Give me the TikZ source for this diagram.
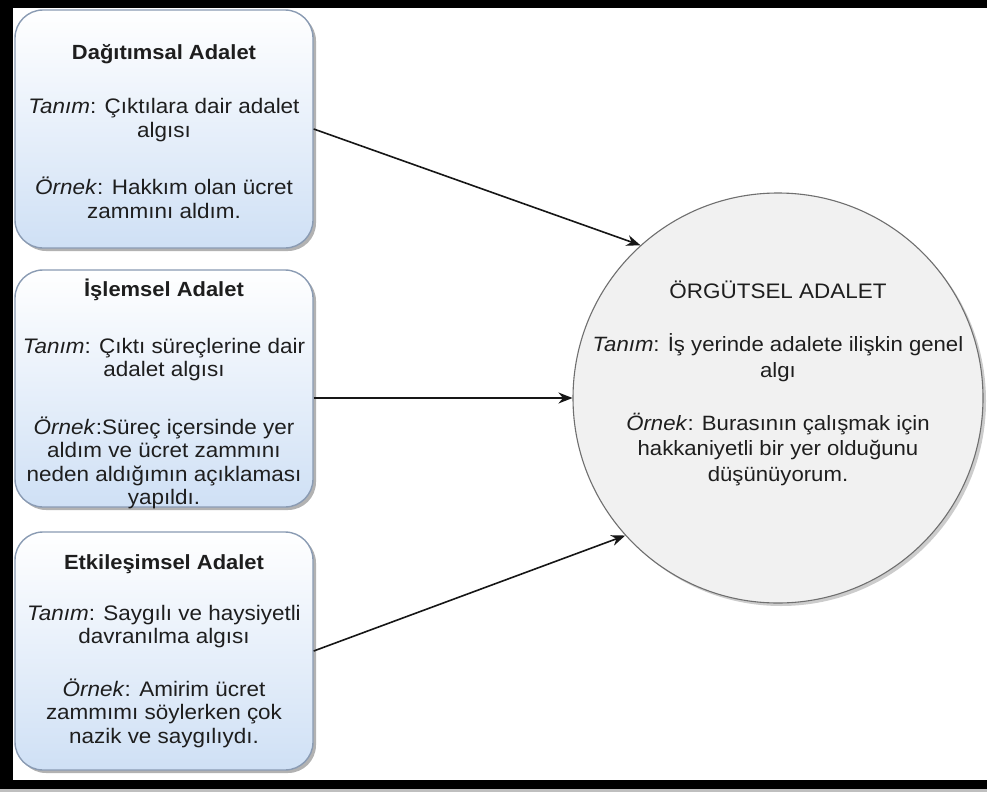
\documentclass[tikz,border=0pt]{standalone}
\usepackage{fontspec}
\setmainfont{Liberation Sans}[FakeStretch=1.07]
\usetikzlibrary{arrows.meta,shadows}

\definecolor{boxedge}{HTML}{8A9BB3}
\definecolor{boxbottom}{HTML}{CFE0F5}
\definecolor{circfill}{HTML}{F1F1F1}
\definecolor{circedge}{HTML}{6F6F6F}
\definecolor{txt}{HTML}{1E1E1E}
\definecolor{linkcol}{HTML}{161616}

\begin{document}
\begin{tikzpicture}[x=1pt,y=-1pt,
  typebox/.style={draw=boxedge, line width=1.4pt, rounded corners=28pt,
    top color=white, bottom color=boxbottom,
    minimum width=298pt, minimum height=238pt, inner sep=0pt,
    drop shadow={shadow xshift=3pt, shadow yshift=-3pt, fill=black, opacity=0.3}},
  boxtext/.style={align=center, text=txt, inner sep=0pt,
    font=\fontsize{21}{23.5}\selectfont},
  bigcircle/.style={circle, draw=circedge, line width=1.1pt, fill=circfill,
    minimum size=410pt, inner sep=0pt,
    drop shadow={shadow xshift=3pt, shadow yshift=-3pt, fill=black, opacity=0.2}},
  circtext/.style={align=center, text=txt, inner sep=0pt,
    font=\fontsize{20.7}{25.5}\selectfont},
  link/.style={draw=linkcol, line width=1.6pt, -{Stealth[length=14pt, width=11pt]}}
]
\useasboundingbox (0,0) rectangle (987,792);
\fill[white] (0,0) rectangle (987,792);

% outer frame (right side runs off the page)
\fill[black!25] (0,788) rectangle (987,792);
\fill[black] (0,0) rectangle (987,8);
\fill[black] (0,0) rectangle (13,789);
\fill[black] (0,780) rectangle (987,789);

% the three kinds of justice
\node[typebox] (b1) at (164,129) {};
\node[typebox, minimum height=237pt] (b2) at (164,388.5) {};
\node[typebox] (b3) at (164,651) {};

\node[boxtext] (t1) at (164,131.5) {%
  {\bfseries\fontsize{20.5}{23.5}\selectfont Dağıtımsal Adalet}\\[31pt]
  \textit{Tanım}: Çıktılara dair adalet\\
  algısı\\[34pt]
  \textit{Örnek}: Hakkım olan ücret\\
  zammını aldım.};

\node[boxtext] (t2) at (164,394) {%
  {\bfseries\fontsize{20.5}{23.5}\selectfont İşlemsel Adalet}\\[33pt]
  \textit{Tanım}: Çıktı süreçlerine dair\\
  adalet algısı\\[34pt]
  \textit{Örnek}:Süreç içersinde yer\\
  aldım ve ücret zammını\\
  neden aldığımın açıklaması\\
  yapıldı.};

\node[boxtext] (t3) at (164,651) {%
  {\bfseries\fontsize{20.5}{23.5}\selectfont Etkileşimsel Adalet}\\[27pt]
  \textit{Tanım}: Saygılı ve haysiyetli\\
  davranılma algısı\\[29pt]
  \textit{Örnek}: Amirim ücret\\
  zammımı söylerken çok\\
  nazik ve saygılıydı.};

% organisational justice
\node[bigcircle] (c) at (778,398) {};
\node[circtext] (tc) at (778,383.5) {%
  {\fontsize{21}{25.5}\selectfont ÖRGÜTSEL ADALET}\\[27.5pt]
  \textit{Tanım}: İş yerinde adalete ilişkin genel\\
  algı\\[27.5pt]
  \textit{Örnek}: Burasının çalışmak için\\
  hakkaniyetli bir yer olduğunu\\
  düşünüyorum.};

% connectors
\draw[link] (b1.east) -- (c.132);
\draw[link] (b2.east |- c.west) -- (c.west);
\draw[link] (b3.east) -- (c.222);
\end{tikzpicture}
\end{document}
